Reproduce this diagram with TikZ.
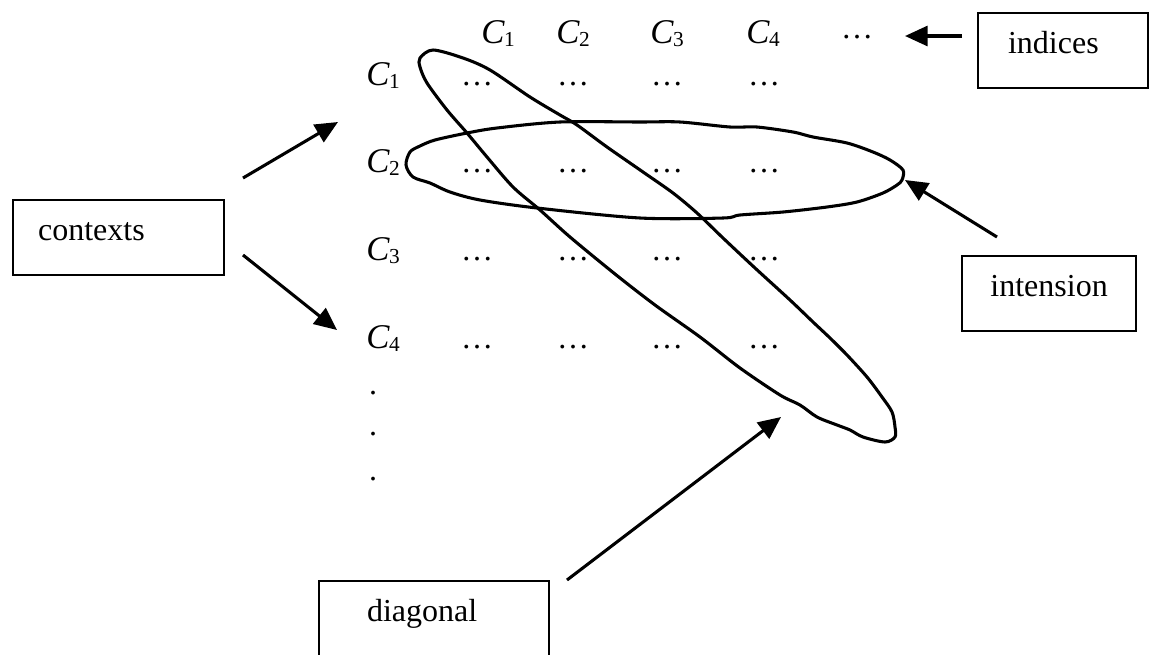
\documentclass[tikz,border=0pt]{standalone}
\usepackage{fontspec}
\setmainfont{Liberation Serif}
\usepackage{tikz}
\usetikzlibrary{arrows.meta}
\tikzstyle{box}   = [rectangle, draw=black, line width=1.6pt, inner ysep=0pt,
                      text height=30pt, text depth=26.25pt, anchor=north west,
                      font=\fontsize{24}{28}\selectfont]
\tikzstyle{lbl}   = [anchor=base, inner sep=0pt, font=\fontsize{24}{28}\selectfont]
\tikzstyle{arrow} = [line width=2.3pt, -{Triangle[length=17pt,width=15pt]}]
\tikzstyle{lasso} = [line width=2.3pt, line join=round]
\newcommand{\cidx}[1]{{\fontsize{26}{28}\selectfont\textit{C}}\kern-0.5pt\raisebox{-2.5pt}{\fontsize{16}{16}\selectfont #1}}

\begin{document}
\begin{tikzpicture}[x=0.75pt, y=-0.75pt]
\useasboundingbox (0,0) rectangle (1149,654);

% column indices
\node (hC1)   [lbl] at (498,43) {\cidx{1}};
\node (hC2)   [lbl] at (573,43) {\cidx{2}};
\node (hC3)   [lbl] at (667,43) {\cidx{3}};
\node (hC4)   [lbl] at (763,43) {\cidx{4}};
\node (hdots) [lbl] at (857,38) {\dots};

% context rows
\node (rC1) [lbl] at (383,85)  {\cidx{1}};
\node (rC2) [lbl] at (383,172) {\cidx{2}};
\node (rC3) [lbl] at (383,260) {\cidx{3}};
\node (rC4) [lbl] at (383,348) {\cidx{4}};

\node (d11) [lbl] at (477,85)  {\dots};
\node (d12) [lbl] at (573,85)  {\dots};
\node (d13) [lbl] at (667,85)  {\dots};
\node (d14) [lbl] at (764,85)  {\dots};
\node (d21) [lbl] at (477,172) {\dots};
\node (d22) [lbl] at (573,172) {\dots};
\node (d23) [lbl] at (667,172) {\dots};
\node (d24) [lbl] at (764,172) {\dots};
\node (d31) [lbl] at (477,260) {\dots};
\node (d32) [lbl] at (573,260) {\dots};
\node (d33) [lbl] at (667,260) {\dots};
\node (d34) [lbl] at (764,260) {\dots};
\node (d41) [lbl] at (477,348) {\dots};
\node (d42) [lbl] at (573,348) {\dots};
\node (d43) [lbl] at (667,348) {\dots};
\node (d44) [lbl] at (764,348) {\dots};

\node (vdot1) [lbl] at (373,394) {.};
\node (vdot2) [lbl] at (373,435) {.};
\node (vdot3) [lbl] at (373,480) {.};

% labelled boxes
\node (contexts)  [box, inner xsep=18.75pt, text width=120.75pt, align=left]
                  at (12,199)  {contexts};
\node (indices)   [box, inner xsep=22.5pt, text width=82.5pt, align=left]
                  at (977,12)  {indices};
\node (intension) [box, inner xsep=21pt, text width=88.5pt, align=center]
                  at (961,255) {intension};
\node (diagonal)  [box, inner xsep=36pt, text width=100.5pt, align=left,
                   text depth=30pt]
                  at (318,580) {diagonal};

% hand drawn loops
\draw [lasso] plot [smooth cycle, tension=0.5] coordinates {
  (406,165) (410,152) (420,146) (435,140) (467,133) (497,128) (560,122)
  (640,122) (680,122) (730,127) (757,127) (793,132) (813,137) (847,143)
  (873,152) (890,160) (903,170) (902,180) (897,185) (883,193) (857,202)
  (827,207) (783,212) (740,215) (723,218) (640,218) (537,208) (480,200)
  (450,192) (430,183) (413,177)};
\draw [lasso] plot [smooth cycle, tension=0.5] coordinates {
  (420,58) (433,50) (463,58) (490,70) (530,97) (560,115) (577,125)
  (607,147) (643,172) (673,193) (697,213) (723,238) (755,268) (790,300)
  (813,322) (830,338) (847,355) (867,377) (882,397) (892,412) (895,427)
  (895,437) (885,442) (863,437) (850,430) (837,425) (817,417) (800,405)
  (780,395) (740,368) (700,337) (655,305) (615,274) (570,237) (540,210)
  (513,187) (487,157) (467,133) (447,110) (427,83) (420,67)};

% arrow ends
\coordinate (idxtail) at (962,36);
\coordinate (idxtip)  at (905,36);
\coordinate (ctxup)   at (243,178);
\coordinate (c1tip)   at (338,122);
\coordinate (ctxdown) at (243,255);
\coordinate (c4tip)   at (337,330);
\coordinate (inttail) at (997,237);
\coordinate (inttip)  at (905,180);
\coordinate (diatail) at (567,580);
\coordinate (diatip)  at (781,417);

\draw [arrow] (idxtail) -- (idxtip);
\draw [arrow] (ctxup)   -- (c1tip);
\draw [arrow] (ctxdown) -- (c4tip);
\draw [arrow] (inttail) -- (inttip);
\draw [arrow] (diatail) -- (diatip);

\end{tikzpicture}
\end{document}
